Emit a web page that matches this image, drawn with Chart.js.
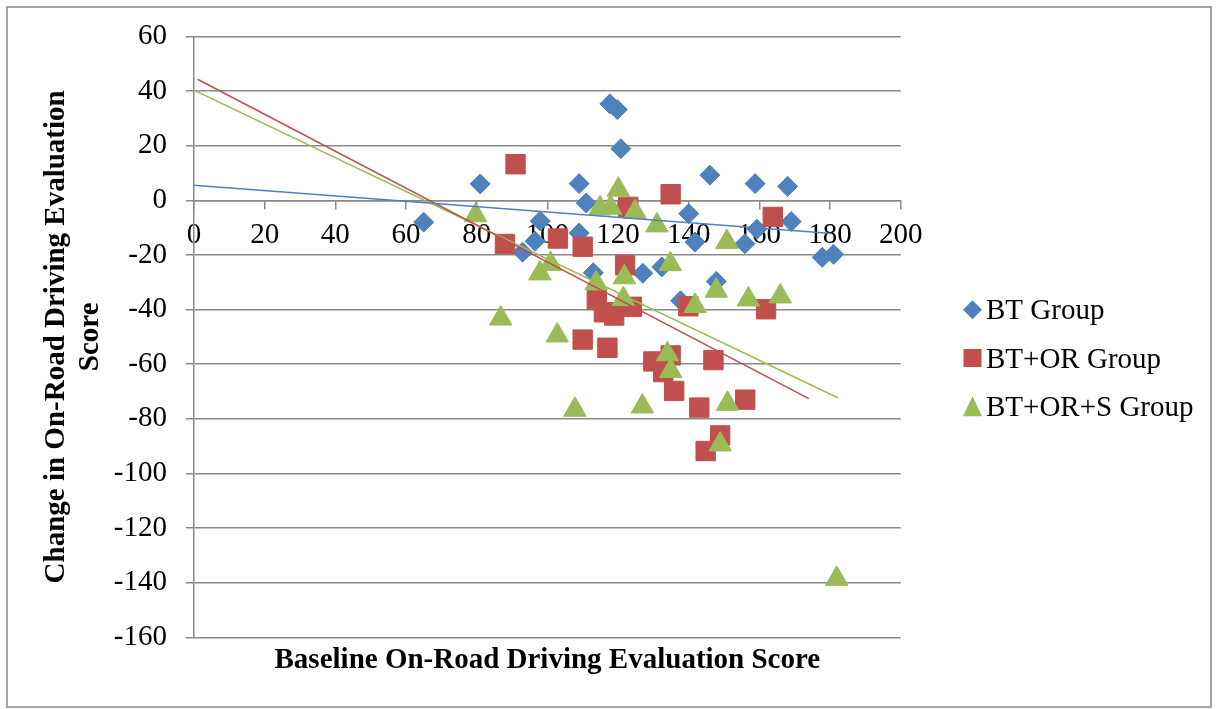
<!DOCTYPE html>
<html>
<head>
<meta charset="utf-8">
<script src="https://cdn.jsdelivr.net/npm/chart.js@4.4.1/dist/chart.umd.min.js"></script>
<style>
  html, body { margin: 0; padding: 0; background: #fff; }
</style>
</head>
<body>
<canvas id="chart" width="1218" height="709"></canvas>
<script>
// Values (baseline score, change in score)
const btBaseline = [65, 81, 93, 98, 96.5, 109, 111, 109, 117.7, 119.8, 120.8, 113, 127, 132.4,
                    137.7, 140, 141.8, 146, 147.8, 155.9, 159.3, 158.8, 168, 169, 177.8, 181];
const btChange   = [-8, 6, -19, -7.6, -15, 6.1, -1, -12, 35.3, 33.2, 18.9, -26.5, -26.7, -24.4,
                    -36.8, -4.9, -15.3, 9.2, -29.7, -15.9, -10.6, 6.1, 5.1, -7.8, -20.9, -19.8];

const orBaseline = [88, 91, 103, 110, 110, 114, 116, 118.9, 117, 122, 122.9, 123.9, 130,
                    132.8, 134.9, 134.9, 135.9, 139.9, 143, 144.8, 147, 148.9, 156, 161.9, 163.8];
const orChange   = [-16, 13.2, -14, -17, -51, -36.5, -41, -42.2, -54, -23.8, -2.4, -39, -59,
                    -62.9, -56.8, 2.2, -69.8, -38.8, -75.9, -91.8, -58.5, -86.1, -73, -39.9, -6.1];

const orsBaseline = [79.7, 86.8, 97.9, 100.9, 102.8, 107.8, 113.8, 114.9, 117.9, 120.1, 121.8, 121.5, 124.8,
                     126.9, 131, 134, 134.9, 134.8, 141.8, 147.8, 148.9, 150.8, 151, 156.9, 165.9, 181.9];
const orsChange   = [-5.5, -43.3, -26.8, -23.3, -49.5, -76.7, -30.4, -3, -2.7, 3.9, -28.2, -36.2, -4.3,
                     -75.5, -9.2, -56.4, -62.5, -23.4, -38.7, -33.1, -89.4, -15.3, -74.5, -36.3, -35.2, -138.6];

// linear trend lines, end points
const btTrend  = [[0, 5.5], [180.5, -12.2]];
const orTrend  = [[1, 44.3], [174, -72.6]];
const orsTrend = [[0, 40.3], [182.2, -72.3]];

const seriesNames = ['BT Group', 'BT+OR Group', 'BT+OR+S Group'];

const blue = '#4F81BD', red = '#C0504D', green = '#9BBB59';
const gridColor = '#898989';
const serif = "'Liberation Serif', 'Times New Roman', serif";

const toPoints = (xs, ys) => xs.map((x, i) => ({ x: x, y: ys[i] }));
const toLine = pairs => pairs.map(p => ({ x: p[0], y: p[1] }));

function trendSet(pairs, color) {
    return {
        data: toLine(pairs),
        showLine: true,
        borderColor: color,
        borderWidth: 1.5,
        pointRadius: 0,
        fill: false,
        order: 0,
    };
}

// outer frame + white background
const framePlugin = {
    id: 'frame',
    beforeDraw(chart) {
        const ctx = chart.ctx;
        ctx.save();
        ctx.fillStyle = '#fff';
        ctx.fillRect(0, 0, chart.width, chart.height);
        ctx.strokeStyle = '#868686';
        ctx.lineWidth = 1.5;
        ctx.strokeRect(7, 7, 1204, 700);
        ctx.restore();
    }
};

// legend on the right, drawn like the spreadsheet one
const sideLegend = {
    id: 'sideLegend',
    afterDraw(chart) {
        const ctx = chart.ctx;
        const items = [
            { color: blue, shape: 'diamond' },
            { color: red, shape: 'square' },
            { color: green, shape: 'triangle' },
        ];
        ctx.save();
        ctx.font = '29px ' + serif;
        ctx.textBaseline = 'alphabetic';
        ctx.textAlign = 'left';
        items.forEach((it, i) => {
            const base = 319.3 + i * 48.2;
            const cx = 972.5, cy = base - 9.5;
            ctx.fillStyle = it.color;
            ctx.beginPath();
            if (it.shape === 'diamond') {
                ctx.moveTo(cx, cy - 9.5); ctx.lineTo(cx + 9.5, cy);
                ctx.lineTo(cx, cy + 9.5); ctx.lineTo(cx - 9.5, cy);
            } else if (it.shape === 'square') {
                ctx.rect(cx - 9, cy - 9, 18, 18);
            } else {
                ctx.moveTo(cx, cy - 10); ctx.lineTo(cx + 9.5, cy + 10); ctx.lineTo(cx - 9.5, cy + 10);
            }
            ctx.closePath();
            ctx.fill();
            ctx.fillStyle = '#000';
            ctx.fillText(seriesNames[i], 986, base);
        });
        ctx.restore();
    }
};

const tickFont = { family: serif, size: 29 };
const titleFont = { family: serif, size: 29, weight: 'bold', lineHeight: 1.15 };

new Chart(document.getElementById('chart'), {
    type: 'scatter',
    data: {
        datasets: [
            trendSet(btTrend, blue),
            trendSet(orTrend, red),
            trendSet(orsTrend, green),
            {
                label: seriesNames[0],
                data: toPoints(btBaseline, btChange),
                pointStyle: 'rectRot',
                pointRadius: 10,
                backgroundColor: blue,
                borderColor: blue,
                borderWidth: 1,
                order: 3,
            },
            {
                label: seriesNames[1],
                data: toPoints(orBaseline, orChange),
                pointStyle: 'rect',
                pointRadius: 13.7,
                backgroundColor: red,
                borderColor: red,
                borderWidth: 1,
                order: 2,
            },
            {
                label: seriesNames[2],
                data: toPoints(orsBaseline, orsChange),
                pointStyle: 'triangle',
                pointRadius: 13,
                backgroundColor: green,
                borderColor: green,
                borderWidth: 1,
                order: 1,
            },
        ],
    },
    options: {
        responsive: false,
        animation: false,
        devicePixelRatio: 1,
        layout: { padding: { top: 36, right: 317.3, left: 0, bottom: 0 } },
        plugins: {
            legend: { display: false },
            tooltip: { enabled: false },
        },
        scales: {
            x: {
                type: 'linear',
                min: 0,
                max: 200,
                position: { y: 0 },
                ticks: { stepSize: 20, padding: 10, color: '#000', font: tickFont, maxRotation: 0 },
                grid: { drawOnChartArea: false, drawTicks: true, tickLength: 8, color: gridColor, lineWidth: 1.5 },
                border: { display: true, color: gridColor, width: 1.5 },
            },
            xTitle: {
                type: 'linear',
                axis: 'x',
                position: 'bottom',
                min: 0,
                max: 200,
                ticks: { display: false },
                grid: { display: false },
                border: { display: false },
                title: {
                    display: true,
                    text: 'Baseline On-Road Driving Evaluation Score',
                    color: '#000',
                    font: titleFont,
                    padding: { top: 0, bottom: 32 },
                },
                afterFit: s => { s.height = 71.7; },
            },
            y: {
                type: 'linear',
                min: -160,
                max: 60,
                position: 'left',
                ticks: { stepSize: 20, padding: 19, color: '#000', font: tickFont },
                grid: { color: gridColor, lineWidth: 1.5, tickLength: 8 },
                border: { color: gridColor, width: 1.5 },
                title: {
                    display: true,
                    text: ['Change in On-Road Driving Evaluation', 'Score'],
                    color: '#000',
                    font: titleFont,
                    padding: { top: 40, bottom: 0 },
                },
                afterFit: s => { s.width = 194; },
            },
        },
    },
    plugins: [framePlugin, sideLegend],
});
</script>
</body>
</html>
